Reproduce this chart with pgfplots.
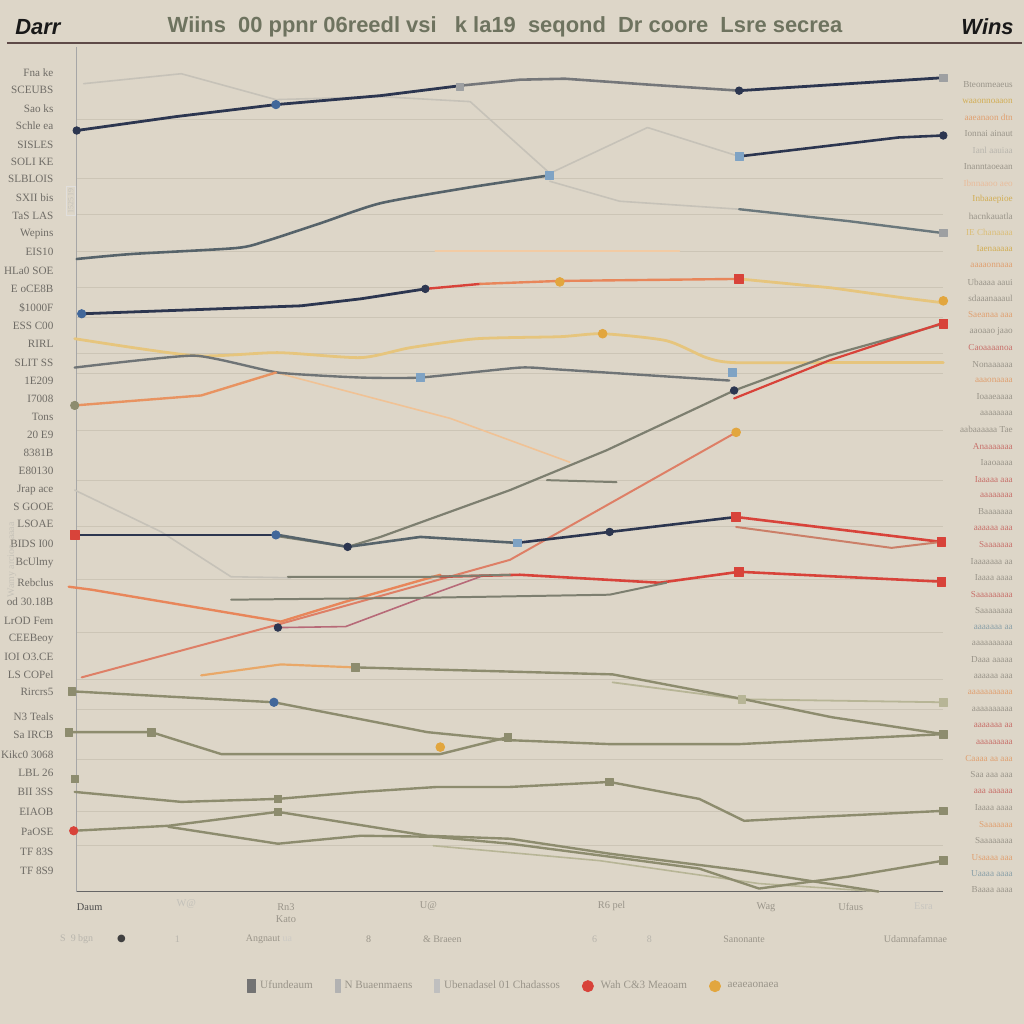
\documentclass[border=0pt]{standalone}
\usepackage{pgfplots}
\pgfplotsset{compat=1.18}
\usepackage{fontspec}
\setmainfont{Liberation Serif}
\newfontfamily\sansf{Liberation Sans}
\definecolor{bg}{HTML}{DDD6C8}
\definecolor{navy}{HTML}{2C3650}
\definecolor{slate}{HTML}{56636A}
\definecolor{grayb}{HTML}{75777A}
\definecolor{lightg}{HTML}{C6C2B8}
\definecolor{slateb}{HTML}{6B787C}
\definecolor{orl}{HTML}{E9A868}
\definecolor{yel}{HTML}{E6C57D}
\definecolor{grayc}{HTML}{6F7476}
\definecolor{olg}{HTML}{7D7F70}
\definecolor{rd}{HTML}{D8433A}
\definecolor{sal}{HTML}{DE7F66}
\definecolor{ora}{HTML}{E8865A}
\definecolor{rpur}{HTML}{B76A78}
\definecolor{oliv}{HTML}{8D8C6E}
\definecolor{olivl}{HTML}{B7B596}
\definecolor{gold}{HTML}{E2A63E}
\definecolor{lblue}{HTML}{7FA3C4}
\definecolor{bluem}{HTML}{41679A}
\definecolor{gridc}{HTML}{CCC5B6}
\definecolor{tg}{HTML}{6F6C66}
\definecolor{rg}{HTML}{9A958A}
\definecolor{ry}{HTML}{D2AE55}
\definecolor{ro}{HTML}{E0A070}
\definecolor{rr}{HTML}{C8706A}
\definecolor{rt}{HTML}{8AA0A8}
\definecolor{titc}{HTML}{6E735F}
\definecolor{rule}{HTML}{5E4A48}
\begin{document}
\begin{tikzpicture}
\fill[bg] (-1pt,1pt) rectangle (513pt,-513pt);
\begin{axis}[
  at={(37.5pt,-446.5pt)}, anchor=south west,
  width=435pt, height=424pt, scale only axis,
  xmin=75, xmax=945, ymin=45, ymax=893, y dir=reverse,
  clip=false,
  axis line style={draw=none},
  tick style={draw=none},
  xtick=\empty, ytick=\empty,
  extra y ticks={118,177,213,250,287,317,353,373,430,480,527,580,633,680,710,760,813,847},
  extra y tick labels={},
  extra y tick style={grid=major, major grid style={draw=gridc, line width=0.5pt}},
  legend columns=5,
  legend style={at={(axis cs:515,988)}, anchor=center, draw=none, fill=none,
    font=\fontsize{5.6pt}{6pt}\selectfont, text=rg,
    /tikz/every even column/.append style={column sep=9pt}},
  every axis plot/.append style={line join=round, line cap=round},
]
% legend first
\addlegendimage{legend image code/.code={\fill[black!55] (0pt,-3pt) rectangle (4pt,3.5pt);}}
\addlegendentry{Ufundeaum}
\addlegendimage{legend image code/.code={\fill[black!30] (0pt,-3pt) rectangle (2.5pt,3.5pt);}}
\addlegendentry{N Buaenmaens}
\addlegendimage{legend image code/.code={\fill[black!25] (0pt,-3pt) rectangle (2.5pt,3.5pt);}}
\addlegendentry{Ubenadasel 01 Chadassos}
\addlegendimage{legend image code/.code={\fill[rd] (0pt,0pt) circle (2.8pt);}}
\addlegendentry{\ Wah C\&3 Meaoam}
\addlegendimage{legend image code/.code={\fill[gold] (0pt,0pt) circle (2.8pt);}}
\addlegendentry{\ aeaeaonaea}
% spines
\draw[gray!70, line width=0.6pt] (axis cs:75,45) -- (axis cs:75,893);
\draw[black!60, line width=0.9pt] (axis cs:75,893) -- (axis cs:945,893);
% faint lines
\addplot[lightg, line width=0.8pt] coordinates {(82,82)(180,72)(275,98)(380,95)(470,100)(550,172)(648,126)(740,155)};
\addplot[lightg, line width=0.8pt] coordinates {(550,180)(620,200)(740,208)};
\addplot[lightg, line width=0.8pt] coordinates {(73,490)(160,532)(230,577)(290,578)};
\addplot[orl!60, line width=0.9pt] coordinates {(435,250)(680,250)};
\addplot[orl!70, line width=0.8pt] coordinates {(275,372)(450,418)(570,462)};
\addplot[olivl, line width=0.9pt] coordinates {(613,683)(743,700)(945,703)};
\addplot[olivl, line width=0.8pt] coordinates {(433,847)(600,862)(760,885)(880,893)};
% top navy line
\addplot[navy, line width=1.4pt] coordinates {(75,129)(175,115)(275,103)(380,94)(460,84)};
\addplot[grayb, line width=1.3pt] coordinates {(460,84)(520,78)(565,77)(650,83)(740,89)};
\addplot[navy, line width=1.4pt] coordinates {(740,89)(850,82)(945,76)};
% slate rising
\addplot[slate, line width=1.3pt, smooth, tension=0.4] coordinates {(75,258)(130,253)(235,247)(265,240)(320,222)(380,202)(470,186)(550,174)};
\addplot[navy, line width=1.3pt] coordinates {(740,155)(900,136)(945,134)};
\addplot[slateb, line width=1.2pt] coordinates {(740,208)(850,220)(945,232)};
% navy -> red -> orange -> yellow
\addplot[navy, line width=1.4pt] coordinates {(80,313)(300,305)(360,298)(425,288)};
\addplot[rd, line width=1.2pt] coordinates {(425,288)(480,283)};
\addplot[ora, line width=1.2pt] coordinates {(480,283)(560,280)(740,278)};
\addplot[yel, line width=1.4pt] coordinates {(740,278)(833,287)(905,297)(945,302)};
% yellow
\addplot[yel, line width=1.4pt, smooth, tension=0.4] coordinates {(73,338)(193,355)(277,352)(360,357)(410,347)(477,338)(560,336)(603,333)(667,340)(707,357)(735,362)(833,362)(945,362)};
% slate gray middle
\addplot[grayc, line width=1.2pt, smooth, tension=0.3] coordinates {(73,367)(193,355)(277,372)(360,377)(420,377)(520,367)(560,369)(730,380)};
\addplot[ora!80!yel, line width=1.2pt] coordinates {(73,405)(200,395)(275,372)};
% diagonal gray
\addplot[olg, line width=1.1pt] coordinates {(275,536)(347,547)(380,537)(510,490)(607,450)(735,390)(830,355)(945,323)};
\addplot[rd, line width=1.1pt] coordinates {(735,398)(830,360)(945,322)};
\addplot[sal, line width=1.0pt] coordinates {(80,678)(277,625)(510,560)(737,432)};
% orange/red
\addplot[ora, line width=1.2pt] coordinates {(67,587)(90,590)(280,622)(345,602)(440,575)};
\addplot[rd, line width=1.3pt] coordinates {(440,577)(520,575)(660,583)(740,572)(945,582)};
\addplot[rpur, line width=0.8pt] coordinates {(280,628)(345,627)(433,594)(480,577)};
\addplot[olg, line width=1.0pt] coordinates {(287,577)(430,577)(510,575)};
\addplot[olg, line width=1.0pt] coordinates {(547,480)(617,482)};
\addplot[olg, line width=1.0pt] coordinates {(230,600)(430,598)(610,595)(667,583)};
% navy middle
\addplot[navy, line width=1.3pt] coordinates {(73,535)(277,535)};
\addplot[slate, line width=1.3pt] coordinates {(277,535)(347,547)(420,537)(517,543)};
\addplot[navy, line width=1.3pt] coordinates {(517,543)(610,532)(737,517)};
\addplot[rd, line width=1.3pt] coordinates {(737,517)(943,542)};
\addplot[sal!80!olg, line width=1.0pt] coordinates {(737,527)(893,548)(943,542)};
% lower olive lines
\addplot[oliv, line width=1.2pt] coordinates {(70,692)(273,703)(427,733)(508,741)(610,745)(740,745)(945,735)};
\addplot[oliv, line width=1.2pt] coordinates {(67,733)(150,733)(220,755)(440,755)(508,738)};
\addplot[orl, line width=1.1pt] coordinates {(200,676)(280,665)(355,668)};
\addplot[oliv, line width=1.2pt] coordinates {(355,668)(613,675)(745,700)(833,718)(945,735)};
\addplot[oliv, line width=1.2pt] coordinates {(73,793)(180,803)(277,800)(360,793)(437,788)(510,788)(610,783)(700,800)(745,822)(820,818)(945,812)};
\addplot[oliv, line width=1.2pt] coordinates {(72,832)(167,827)(277,813)(427,837)(510,840)(610,855)(745,872)(880,893)};
\addplot[oliv, line width=1.2pt] coordinates {(167,828)(277,845)(360,837)(433,838)(510,845)(610,858)(700,870)(760,890)(850,878)(945,862)};
% markers
\addplot[only marks, mark=*, mark size=1.9pt, navy] coordinates {(75,129)(740,89)(945,134)(425,288)(347,547)(610,532)(735,390)(277,628)};
\addplot[only marks, mark=*, mark size=2.1pt, bluem] coordinates {(275,103)(80,313)(275,535)(273,703)};
\addplot[only marks, mark=square*, mark size=2pt, lblue] coordinates {(550,174)(740,155)(420,377)(733,372)(517,543)};
\addplot[only marks, mark=square*, mark size=1.8pt, grayb!70] coordinates {(460,85)(945,76)(945,232)};
\addplot[only marks, mark=square*, mark size=2.2pt, rd] coordinates {(740,278)(945,323)(737,517)(943,542)(740,572)(943,582)(73,535)};
\addplot[only marks, mark=*, mark size=2.1pt, rd] coordinates {(72,832)};
\addplot[only marks, mark=*, mark size=2.2pt, gold] coordinates {(945,300)(603,333)(560,281)(737,432)(440,748)};
\addplot[only marks, mark=*, mark size=2.1pt, oliv] coordinates {(73,405)};
\addplot[only marks, mark=square*, mark size=1.9pt, oliv] coordinates {(73,780)(277,800)(277,813)(610,783)(945,812)(945,862)(355,668)(150,733)(67,733)(508,738)(70,692)(945,735)};
\addplot[only marks, mark=square*, mark size=1.9pt, olivl] coordinates {(743,700)(945,703)};
\end{axis}
\begin{scope}[x=0.5pt,y=-0.5pt]
% header
\draw[rule, line width=0.7pt] (5,41) -- (1024,41);
\node[font=\sansf\bfseries\itshape\fontsize{11pt}{12pt}\selectfont, text=black!90, anchor=west, inner sep=0] at (13,25) {Darr};
\node[font=\sansf\bfseries\itshape\fontsize{11pt}{12pt}\selectfont, text=black!90, anchor=east, inner sep=0] at (1016,25) {Wins};
\node[font=\sansf\bfseries\fontsize{11pt}{12pt}\selectfont, text=titc, inner sep=0] at (505,25) {Wiins\ \ 00 ppnr 06reedl vsi\ \ \ k la19\ \ seqond\ \ Dr coore\ \ Lsre secrea};
% left labels
\foreach \yy/\tt in {71/Fna ke,88/SCEUBS,107/Sao ks,124/Schle ea,143/SISLES,160/SOLI KE,178/SLBLOIS,196/SXII bis,215/TaS LAS,233/Wepins,251/EIS10,270/HLa0 SOE,288/E oCE8B,307/\$1000F,325/ESS C00,343/RIRL,362/SLIT SS,380/1E209,398/I7008,417/Tons,435/20 E9,453/8381B,471/E80130,490/Jrap ace,507/S GOOE,524/LSOAE,544/BIDS I00,563/BcUlmy,583/Rebclus,602/od 30.18B,621/LrOD Fem,639/CEEBeoy,657/IOI O3.CE,675/LS COPel,693/Rircrs5,717/N3 Teals,736/Sa IRCB,756/Kikc0 3068,774/LBL 26,793/BII 3SS,813/EIAOB,833/PaOSE,853/TF 83S,872/TF 8S9}{
  \node[anchor=east, inner sep=0, text=tg, font=\fontsize{5.6pt}{6pt}\selectfont] at (52,\yy) {\tt};
}
% right labels
\foreach \yy/\tt/\cc in {83/Bteonmeaeus/rg,99.5/waaonnoaaon/ry,116/aaeanaon dtn/ro,132.5/Ionnai ainaut/rg,149/Ianl aauiaa/rg!70,165.5/Inanntaoeaan/rg,182/Ibnnaaoo aeo/ro!70,198.5/Inbaaepioe/ry,215/hacnkauatla/rg,231.5/IE Chanaaaa/ry!80,248/Iaenaaaaa/ry,264.5/aaaaonnaaa/ro,281/Ubaaaa aaui/rg,297.5/sdaaanaaaul/rg,314/Saeanaa aaa/ro,330.5/aaoaao jaao/rg,347/Caoaaaanoa/rr,363.5/Nonaaaaaa/rg,380/aaaonaaaa/ro,396.5/Ioaaeaaaa/rg,413/aaaaaaaa/rg,429.5/aabaaaaaa Tae/rg,446/Anaaaaaaa/rr,462.5/Iaaoaaaa/rg,479/Iaaaaa aaa/rr,495.5/aaaaaaaa/rr,512/Baaaaaaa/rg,528.5/aaaaaa aaa/rr,545/Saaaaaaa/rr,561.5/Iaaaaaaa aa/rg,578/Iaaaa aaaa/rg,594.5/Saaaaaaaaa/rr,611/Saaaaaaaa/rg,627.5/aaaaaaa aa/rt,644/aaaaaaaaaa/rg,660.5/Daaa aaaaa/rg,677/aaaaaa aaa/rg,693.5/aaaaaaaaaaa/ro,710/aaaaaaaaaa/rg,726.5/aaaaaaa aa/rr,743/aaaaaaaaa/rr,759.5/Caaaa aa aaa/ro,776/Saa aaa aaa/rg,792.5/aaa aaaaaa/rr,809/Iaaaa aaaa/rg,825.5/Saaaaaaa/ro,842/Saaaaaaaa/rg,858.5/Usaaaa aaa/ro,875/Uaaaa aaaa/rt,891.5/Baaaa aaaa/rg}{
  \node[anchor=east, inner sep=0, text=\cc, font=\fontsize{4.6pt}{5pt}\selectfont] at (1015,\yy) {\tt};
}
% x labels row 1
\node[text=black!70, font=\fontsize{5.2pt}{6pt}\selectfont] at (88,909) {Daum};
\node[text=rg!60, font=\fontsize{5.2pt}{6pt}\selectfont] at (185,906) {W@};
\node[text=rg, font=\fontsize{5.2pt}{6pt}\selectfont, align=center] at (285,915) {Rn3\\Kato};
\node[text=rg, font=\fontsize{5.2pt}{6pt}\selectfont] at (428,908) {U@};
\node[text=rg, font=\fontsize{5.2pt}{6pt}\selectfont] at (612,908) {R6 pel};
\node[text=rg, font=\fontsize{5.2pt}{6pt}\selectfont] at (767,909) {Wag};
\node[text=rg, font=\fontsize{5.2pt}{6pt}\selectfont] at (852,908) {Ufaus};
\node[text=rg!55, font=\fontsize{5.2pt}{6pt}\selectfont] at (925,908) {Esra};
% x labels row 2
\node[text=rg!70, font=\fontsize{5pt}{6pt}\selectfont] at (75,941) {S\ \ 9 bgn};
\node[text=black!75, font=\fontsize{5pt}{6pt}\selectfont] at (120,941) {\fontspec{DejaVu Sans}●};
\node[text=rg!70, font=\fontsize{5pt}{6pt}\selectfont] at (176,941) {1};
\node[text=rg, font=\fontsize{5pt}{6pt}\selectfont] at (268,941) {Angnaut {\color{rg!50}ua}};
\node[text=rg, font=\fontsize{5pt}{6pt}\selectfont] at (368,941) {8};
\node[text=rg, font=\fontsize{5pt}{6pt}\selectfont] at (442,941) {\& Braeen};
\node[text=rg!70, font=\fontsize{5pt}{6pt}\selectfont] at (595,941) {6};
\node[text=rg!70, font=\fontsize{5pt}{6pt}\selectfont] at (650,941) {8};
\node[text=rg, font=\fontsize{5pt}{6pt}\selectfont] at (745,941) {Sanonante};
\node[text=rg, font=\fontsize{5pt}{6pt}\selectfont] at (917,941) {Udamnafamnae};
% faint vertical labels
\node[rotate=90, text=lightg, font=\fontsize{5pt}{6pt}\selectfont] at (10,560) {Wamy arcioe\ \ aaaa};
\node[rotate=90, text=rg!60, font=\fontsize{4pt}{5pt}\selectfont, draw=rg!30, inner sep=1pt] at (69,200) {1525\,19};
\end{scope}
\end{tikzpicture}
\end{document}
